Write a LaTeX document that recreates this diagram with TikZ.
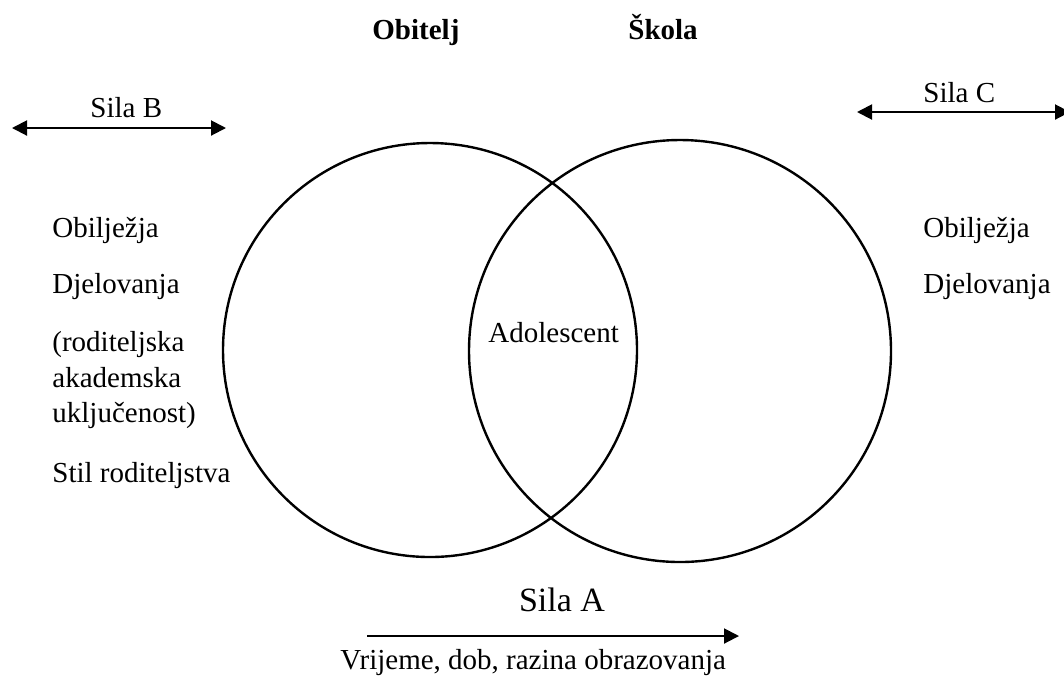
\documentclass[tikz,border=0pt]{standalone}
\usepackage{fontspec}
\setmainfont{Liberation Serif}
\usetikzlibrary{arrows.meta}
\begin{document}
\begin{tikzpicture}[x=0.5pt,y=-0.5pt,
  txt/.style={inner sep=0pt,anchor=base west,font=\fontsize{14.5}{17}\selectfont},
  head/.style={inner sep=0pt,anchor=base west,font=\fontsize{14.5}{17}\selectfont\bfseries},
  ring/.style={line width=1.2pt},
  force/.style={line width=1pt,{Triangle[length=7.5pt,width=7.5pt]}-{Triangle[length=7.5pt,width=7.5pt]}},
  forceone/.style={line width=1pt,-{Triangle[length=7.5pt,width=7.5pt]}}]
\useasboundingbox (0,0) rectangle (1064,677);
% circles
\draw[ring] (430,350) circle[radius=207];
\draw[ring] (680,351) circle[radius=211];
% headings
\node[head] (obitelj) at (372,39) {Obitelj};
\node[head] (skola) at (628,39) {Škola};
% Sila B
\node[txt] (silaB) at (90,117) {Sila B};
\coordinate (bL) at (12,128);
\coordinate (bR) at (226,128);
\draw[force] (bL) -- (bR);
% Sila C
\node[txt] (silaC) at (923,102) {Sila C};
\coordinate (cL) at (857,112);
\coordinate (cR) at (1070,112);
\draw[force] (cL) -- (cR);
% left list
\node[txt] (lo) at (52,237) {Obilježja};
\node[txt] (ld) at (52,293) {Djelovanja};
\node[txt] (lr1) at (52,351) {(roditeljska};
\node[txt] (lr2) at (52,387) {akademska};
\node[txt] (lr3) at (52,422) {uključenost)};
\node[txt] (ls) at (52,482) {Stil roditeljstva};
% right list
\node[txt] (ro) at (923,237) {Obilježja};
\node[txt] (rd) at (923,293) {Djelovanja};
% centre
\node[txt] (adol) at (488,342) {Adolescent};
% Sila A
\node[txt,anchor=base,font=\fontsize{17}{20}\selectfont] (silaA) at (562,611) {Sila A};
\coordinate (aL) at (367,636);
\coordinate (aR) at (739,636);
\draw[forceone] (aL) -- (aR);
\node[txt] (vrijeme) at (340,669) {Vrijeme, dob, razina obrazovanja};
\end{tikzpicture}
\end{document}
